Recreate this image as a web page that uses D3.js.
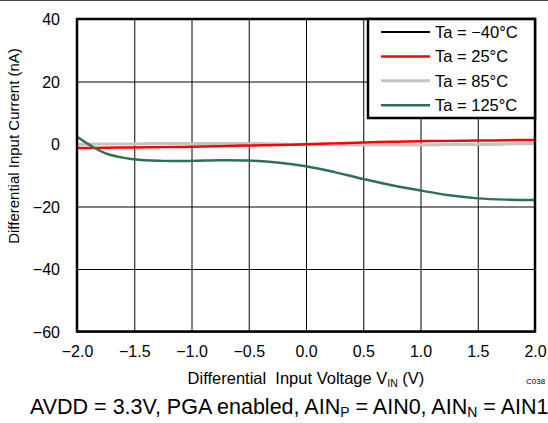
<!DOCTYPE html>
<html>
<head>
<meta charset="utf-8">
<script src="https://cdn.jsdelivr.net/npm/d3@7"></script>
<style>
  body { margin: 0; background: #fff; }
  svg { display: block; font-family: "Liberation Sans", Arial, sans-serif; }
</style>
</head>
<body>
<div class="container"></div>
<script>
const WIDTH = 548;
const HEIGHT = 423;
const MARGIN = {top: 19, right: 13, bottom: 91.5, left: 77};

// input voltage (V)
var voltages = [-2.0, -1.75, -1.5, -1.25, -1.0, -0.75, -0.5, -0.25, 0, 0.25, 0.5, 0.75, 1.0, 1.25, 1.5, 1.75, 2.0];
// differential input current (nA) per temperature
var currentM40 = [-0.1, 0, 0, 0.1, 0.1, 0.1, 0.1, 0, -0.1, -0.2, -0.3, -0.3, -0.3, -0.2, -0.1, 0, 0.1];
var current25 = [-1.3, -1.2, -1.1, -1.0, -0.9, -0.7, -0.5, -0.3, -0.1, 0.2, 0.5, 0.7, 0.9, 1.0, 1.1, 1.2, 1.3];
var current85 = [-0.1, 0, 0, 0.1, 0.1, 0.1, 0.1, 0, -0.1, -0.2, -0.3, -0.3, -0.3, -0.2, -0.1, 0, 0.1];
var current125 = [2.3, -3.0, -4.9, -5.4, -5.4, -5.2, -5.3, -5.9, -7.1, -9.0, -11.2, -13.2, -14.9, -16.4, -17.4, -17.8, -17.9];

var xTicks = [-2.0, -1.5, -1.0, -0.5, 0, 0.5, 1.0, 1.5, 2.0];
var yTicks = [-60, -40, -20, 0, 20, 40];

var series = [
    {label: "Ta = \u221240\u00b0C", values: currentM40, color: "#000000", width: 2},
    {label: "Ta = 25\u00b0C", values: current25, color: "#ff0000", width: 2.5},
    {label: "Ta = 85\u00b0C", values: current85, color: "#c4c4c4", width: 3},
    {label: "Ta = 125\u00b0C", values: current125, color: "#2e7050", width: 2.5}
];
// drawing order: black, gray, red, green
var drawOrder = [0, 2, 1, 3];

var translate = function(x, y) {
    return `translate(${x},${y})`;
};

var draw = function() {
    var w = WIDTH - MARGIN.left - MARGIN.right;
    var h = HEIGHT - MARGIN.top - MARGIN.bottom;

    var svg = d3.select('.container').append('svg')
        .attr('width', WIDTH)
        .attr('height', HEIGHT);

    // thin top border of the page
    svg.append('line')
        .attr('x1', 0).attr('x2', WIDTH)
        .attr('y1', 0.5).attr('y2', 0.5)
        .attr('stroke', '#444').attr('stroke-width', 1);

    var xScale = d3.scaleLinear().domain([-2, 2]).range([0, w]);
    var yScale = d3.scaleLinear().domain([-60, 40]).range([h, 0]);

    var g = svg.append('g').attr('transform', translate(MARGIN.left, MARGIN.top));

    // grid + tick labels
    var xAxis = d3.axisBottom(xScale).tickValues(xTicks)
        .tickSize(-h).tickPadding(14).tickFormat(d3.format('.1f'));
    var yAxis = d3.axisLeft(yScale).tickValues(yTicks)
        .tickSize(-w).tickPadding(17);

    var gx = g.append('g').attr('transform', translate(0, h)).call(xAxis);
    var gy = g.append('g').call(yAxis);
    [gx, gy].forEach(function(a) {
        a.select('.domain').remove();
        a.selectAll('.tick line').attr('stroke', '#000').attr('stroke-width', 1);
        a.selectAll('.tick text').attr('fill', '#000').style('font-size', '16px')
            .style('font-family', '"Liberation Sans", Arial, sans-serif');
    });
    gy.selectAll('.tick text').attr('dy', '0.36em');

    // curves
    var line = d3.line()
        .x((d, i) => xScale(voltages[i]))
        .y((d) => yScale(d))
        .curve(d3.curveCatmullRom);

    drawOrder.forEach(function(k) {
        var s = series[k];
        g.append('path')
            .attr('d', line(s.values))
            .attr('fill', 'none')
            .attr('stroke', s.color)
            .attr('stroke-width', s.width);
    });

    // frame
    g.append('rect')
        .attr('width', w).attr('height', h)
        .attr('fill', 'none').attr('stroke', '#000').attr('stroke-width', 2.5);

    // legend
    var lg = g.append('g').attr('transform', translate(w - 167, 0));
    lg.append('rect').attr('width', 167).attr('height', 99)
        .attr('fill', '#fff').attr('stroke', '#000').attr('stroke-width', 2.5);
    series.forEach(function(s, i) {
        var yy = 13 + i * 24.4;
        lg.append('line').attr('x1', 13).attr('x2', 62)
            .attr('y1', yy).attr('y2', yy)
            .attr('stroke', s.color).attr('stroke-width', s.width);
        lg.append('text').attr('x', 67).attr('y', yy).attr('dy', '0.36em')
            .style('font-size', '16.5px').text(s.label);
    });

    // axis titles
    svg.append('text')
        .attr('transform', 'translate(19,146) rotate(-90)')
        .attr('text-anchor', 'middle')
        .style('font-size', '15px')
        .text('Differential Input Current (nA)');

    var xt = svg.append('text').attr('x', 306).attr('y', 384)
        .attr('text-anchor', 'middle')
        .style('font-size', '16.5px').style('white-space', 'pre');
    xt.append('tspan').text('Differential  Input Voltage V');
    xt.append('tspan').attr('dy', 3).style('font-size', '10.5px').text('IN');
    xt.append('tspan').attr('dy', -3).text(' (V)');

    svg.append('text').attr('x', 526).attr('y', 384)
        .style('font-size', '8px').text('C038');

    var fn = svg.append('text').attr('x', 30).attr('y', 414)
        .style('font-size', '21.5px');
    fn.append('tspan').text('AVDD = 3.3V, PGA enabled, AIN');
    fn.append('tspan').attr('dy', 3).style('font-size', '14px').text('P');
    fn.append('tspan').attr('dy', -3).text(' = AIN0, AIN');
    fn.append('tspan').attr('dy', 3).style('font-size', '14px').text('N');
    fn.append('tspan').attr('dy', -3).text(' = AIN1');
};

window.onload = draw;
</script>
</body>
</html>
